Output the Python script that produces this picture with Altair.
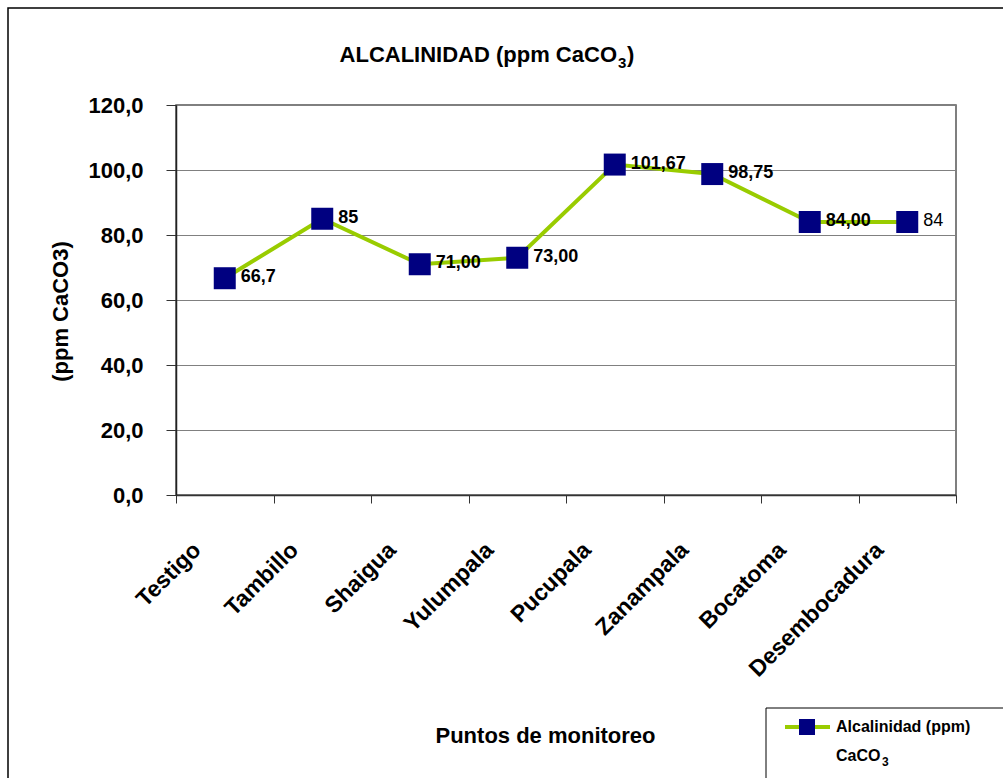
import altair as alt
import pandas as pd

# ---- data ----
puntos = ["Testigo", "Tambillo", "Shaigua", "Yulumpala", "Pucupala",
          "Zanampala", "Bocatoma", "Desembocadura"]
alcalinidad = [66.7, 85, 71.0, 73.0, 101.67, 98.75, 84.0, 84]
etiquetas = ["66,7", "85", "71,00", "73,00", "101,67", "98,75", "84,00", "84"]
negrita = [True, True, True, True, True, True, True, False]
y_ticks = [0, 20, 40, 60, 80, 100, 120]

df = pd.DataFrame({"punto": puntos, "valor": alcalinidad,
                   "etiqueta": etiquetas, "negrita": negrita})

FONT = "Liberation Sans"
GREEN = "#99CC00"
NAVY = "#000080"

x_enc = alt.X("punto:N", sort=puntos,
              scale=alt.Scale(type="band", paddingInner=0, paddingOuter=0),
              axis=alt.Axis(title="Puntos de monitoreo", tickBand="extent",
                            tickSize=8, tickColor="#333", domainColor="#333",
                            domainWidth=1.5, labelAngle=-45, labelAlign="right",
                            labelBaseline="middle", labelPadding=43,
                            labelOffset=-28, labelFontSize=23,
                            labelFontWeight="bold", labelLimit=400,
                            labelOverlap=False, labelColor="black",
                            titleFontSize=22, titleFontWeight="bold",
                            titleX=369, titleY=240, titleAlign="center",
                            titleBaseline="middle", titleColor="black",
                            grid=False))
y_enc = alt.Y("valor:Q",
              scale=alt.Scale(domain=[0, 120], nice=False, zero=True),
              axis=alt.Axis(title="(ppm CaCO3)", values=y_ticks,
                            labelExpr="replace(format(datum.value, '.1f'), '.', ',')",
                            tickSize=10, tickColor="#333", domainColor="#222",
                            domainWidth=1.5, labelPadding=23, labelFontSize=22,
                            labelFontWeight="bold", labelColor="black",
                            gridColor="#808080", gridWidth=1,
                            titleFontSize=22, titleFontWeight="bold",
                            titleColor="black", titleAngle=-90,
                            titleX=-116, titleY=206, titleAlign="center",
                            titleBaseline="middle"))

base = alt.Chart(df)

line = base.mark_line(color=GREEN, strokeWidth=4).encode(x=x_enc, y=y_enc)
points = base.mark_point(shape="square", filled=True, size=484, color=NAVY,
                         opacity=1, strokeWidth=0).encode(x=x_enc, y=y_enc)
labels_b = base.transform_filter("datum.negrita").mark_text(
    align="left", baseline="middle", dx=16, dy=-1, fontSize=18,
    fontWeight="bold", font=FONT, color="black").encode(
    x=x_enc, y=y_enc, text="etiqueta:N")
labels_n = base.transform_filter("!datum.negrita").mark_text(
    align="left", baseline="middle", dx=16, dy=-1, fontSize=18,
    fontWeight="normal", font=FONT, color="black").encode(
    x=x_enc, y=y_enc, text="etiqueta:N")

one = alt.Chart(pd.DataFrame({"k": [0]}))

# outer chart border (decoration)
border = one.mark_rect(fill="transparent", stroke="black", strokeWidth=1.5).encode(
    x=alt.value(-168), x2=alt.value(860), y=alt.value(-97), y2=alt.value(700))

# title (with subscript 3)
t_main = one.mark_text(align="right", baseline="alphabetic", fontSize=22,
                       fontWeight="bold", font=FONT, color="black",
                       text="ALCALINIDAD (ppm CaCO").encode(
    x=alt.value(441), y=alt.value(-43))
t_sub = one.mark_text(align="left", baseline="alphabetic", fontSize=15,
                      fontWeight="bold", font=FONT, color="black",
                      text="3").encode(
    x=alt.value(442), y=alt.value(-37))
t_end = one.mark_text(align="left", baseline="alphabetic", fontSize=22,
                      fontWeight="bold", font=FONT, color="black",
                      text=")").encode(
    x=alt.value(451), y=alt.value(-43))

# manual legend
leg_box = one.mark_rect(fill="white", stroke="black", strokeWidth=1).encode(
    x=alt.value(590), x2=alt.value(900), y=alt.value(603), y2=alt.value(720))
leg_line = one.mark_rule(color=GREEN, strokeWidth=4).encode(
    x=alt.value(609), x2=alt.value(654), y=alt.value(622))
leg_sq = one.mark_point(shape="square", filled=True, size=256, color=NAVY,
                        opacity=1, strokeWidth=0).encode(
    x=alt.value(631), y=alt.value(622))
leg_t1 = one.mark_text(align="left", baseline="middle", fontSize=16,
                       fontWeight="bold", font=FONT, color="black",
                       text="Alcalinidad (ppm)").encode(
    x=alt.value(660), y=alt.value(622))
leg_t2 = one.mark_text(align="left", baseline="alphabetic", fontSize=16,
                       fontWeight="bold", font=FONT, color="black",
                       text="CaCO").encode(
    x=alt.value(660), y=alt.value(656))
leg_t3 = one.mark_text(align="left", baseline="alphabetic", fontSize=12,
                       fontWeight="bold", font=FONT, color="black",
                       text="3").encode(
    x=alt.value(706), y=alt.value(661))

chart = alt.layer(
    border, t_main, t_sub, t_end, line, points, labels_b, labels_n,
    leg_box, leg_line, leg_sq, leg_t1, leg_t2, leg_t3
).properties(
    width=780, height=390,
    autosize=alt.AutoSizeParams(type="none"),
    padding={"left": 176, "top": 105, "right": 47, "bottom": 283},
    background="white",
).configure(
    font=FONT,
).configure_view(
    stroke="#555", strokeWidth=1.5
)

chart.save("out.html", embed_options={"renderer": "svg", "actions": False})
